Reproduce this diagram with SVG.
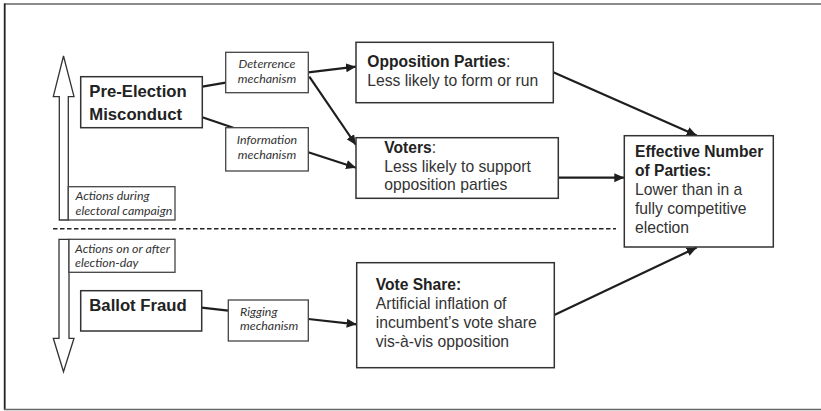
<svg xmlns="http://www.w3.org/2000/svg" width="821" height="411" viewBox="0 0 821 411">
  <defs>
    <marker id="arrow" viewBox="0 0 10 10" refX="10" refY="5" markerWidth="10" markerHeight="10" markerUnits="userSpaceOnUse" orient="auto">
      <path d="M0,0.5 L10,5 L0,9.5 z" fill="#1e1e1e"/>
    </marker>
    <style>
      .box { fill: #fff; stroke: #333; stroke-width: 1.5; }
      .sbox { fill: #fff; stroke: #444; stroke-width: 1.3; }
      .edge { fill: none; stroke: #1e1e1e; stroke-width: 2.2; }
      .big { font-family: "Liberation Sans", Arial, sans-serif; font-weight: bold; font-size: 16.7px; fill: #222; }
      .hd { font-family: "Liberation Sans", Arial, sans-serif; font-weight: bold; font-size: 15.6px; fill: #222; }
      .tx { font-family: "Liberation Sans", Arial, sans-serif; font-size: 15.7px; fill: #333; }
      .it { font-family: Lato, "Open Sans", sans-serif; font-style: italic; font-size: 12.4px; fill: #333; }
      .timeline { fill: #fff; stroke: #333; stroke-width: 1.3; }
    </style>
  </defs>

  <!-- frame -->
  <g id="frame" fill="none">
    <line x1="4" y1="4" x2="821" y2="4" stroke="#666" stroke-width="1.6"/>
    <line x1="4.7" y1="3.5" x2="4.7" y2="410" stroke="#222" stroke-width="1.8"/>
    <line x1="4" y1="409.5" x2="821" y2="409.5" stroke="#666" stroke-width="1.6"/>
  </g>

  <!-- timeline arrows and divider -->
  <g id="timeline-up">
    <polygon class="timeline" points="59.3,220 59.3,96.7 53.3,96.7 63.5,56 74,96.7 68.3,96.7 68.3,220"/>
  </g>
  <g id="timeline-down">
    <polygon class="timeline" points="59,239.3 69,239.3 69,338.3 74,338.3 63.5,371.7 53.3,338.3 59,338.3"/>
  </g>
  <line id="divider" x1="53" y1="228.7" x2="616" y2="228.7" stroke="#222" stroke-width="1.5" stroke-dasharray="4.5,2.5"/>

  <g id="actions-during">
    <rect class="sbox" x="68.3" y="186.7" width="106.7" height="33.3"/>
    <text class="it" x="75.5" y="200">Actions during</text>
    <text class="it" x="75.5" y="215">electoral campaign</text>
  </g>
  <g id="actions-after">
    <rect class="sbox" x="69" y="239.3" width="106" height="33"/>
    <text class="it" x="75" y="253.3">Actions on or after</text>
    <text class="it" x="75" y="267">election-day</text>
  </g>

  <!-- connectors -->
  <g id="connectors">
    <line class="edge" x1="202.3" y1="86.7" x2="225.7" y2="82.7"/>
    <line class="edge" x1="202.3" y1="117.3" x2="233.3" y2="127.7"/>
    <line class="edge" x1="308.3" y1="72.3" x2="356" y2="66.7" marker-end="url(#arrow)"/>
    <line class="edge" x1="309.3" y1="76.7" x2="356" y2="145" marker-end="url(#arrow)"/>
    <line class="edge" x1="308.3" y1="152.3" x2="356" y2="167.7" marker-end="url(#arrow)"/>
    <line class="edge" x1="201.7" y1="307.7" x2="228.3" y2="310.7"/>
    <line class="edge" x1="308.3" y1="319" x2="356.7" y2="324.3" marker-end="url(#arrow)"/>
    <line class="edge" x1="553.3" y1="72.3" x2="696.7" y2="135.5" marker-end="url(#arrow)"/>
    <line class="edge" x1="558.3" y1="177.7" x2="624.3" y2="177.7" marker-end="url(#arrow)"/>
    <line class="edge" x1="554.3" y1="315" x2="696.7" y2="247.5" marker-end="url(#arrow)"/>
  </g>

  <g id="pre-election">
    <rect class="box" x="80.7" y="76.7" width="121.6" height="51"/>
    <text class="big" x="89.3" y="97">Pre-Election</text>
    <text class="big" x="89.3" y="119.5">Misconduct</text>
  </g>
  <g id="deterrence">
    <rect class="sbox" x="225.7" y="52.3" width="82.6" height="40.4"/>
    <text class="it" x="267" y="68.3" text-anchor="middle">Deterrence</text>
    <text class="it" x="267" y="82.7" text-anchor="middle">mechanism</text>
  </g>
  <g id="information">
    <rect class="sbox" x="225.7" y="127.7" width="82.6" height="43.3"/>
    <text class="it" x="267" y="144.3" text-anchor="middle">Information</text>
    <text class="it" x="267" y="159" text-anchor="middle">mechanism</text>
  </g>
  <g id="ballot-fraud">
    <rect class="box" x="80.7" y="290.7" width="121" height="40.3"/>
    <text class="big" x="89.3" y="310.7">Ballot Fraud</text>
  </g>
  <g id="rigging">
    <rect class="sbox" x="228.3" y="300" width="80" height="41"/>
    <text class="it" x="240" y="315.7">Rigging</text>
    <text class="it" x="240" y="330">mechanism</text>
  </g>

  <g id="opposition-parties">
    <rect class="box" x="356" y="42.3" width="197.3" height="60.4"/>
    <text x="367.3" y="67.3"><tspan class="hd">Opposition Parties</tspan><tspan class="tx">:</tspan></text>
    <text class="tx" x="367.3" y="85.5">Less likely to form or run</text>
  </g>
  <g id="voters">
    <rect class="box" x="356" y="137.7" width="202.3" height="60.6"/>
    <text x="384.3" y="153.3"><tspan class="hd">Voters</tspan><tspan class="tx">:</tspan></text>
    <text class="tx" x="384.3" y="171.7">Less likely to support</text>
    <text class="tx" x="384.3" y="190">opposition parties</text>
  </g>
  <g id="vote-share">
    <rect class="box" x="356.7" y="262.7" width="197.6" height="105"/>
    <text class="hd" x="375.7" y="290">Vote Share:</text>
    <text class="tx" x="375.7" y="309">Artificial inflation of</text>
    <text class="tx" x="375.7" y="328.3">incumbent’s vote share</text>
    <text class="tx" x="375.7" y="347.3">vis-à-vis opposition</text>
  </g>
  <g id="effective-number">
    <rect class="box" x="624.3" y="135.7" width="149" height="111.3"/>
    <text class="hd" x="635" y="157.3">Effective Number</text>
    <text class="hd" x="635" y="176">of Parties:</text>
    <text class="tx" x="635" y="195">Lower than in a</text>
    <text class="tx" x="635" y="214">fully competitive</text>
    <text class="tx" x="635" y="232.7">election</text>
  </g>
</svg>
